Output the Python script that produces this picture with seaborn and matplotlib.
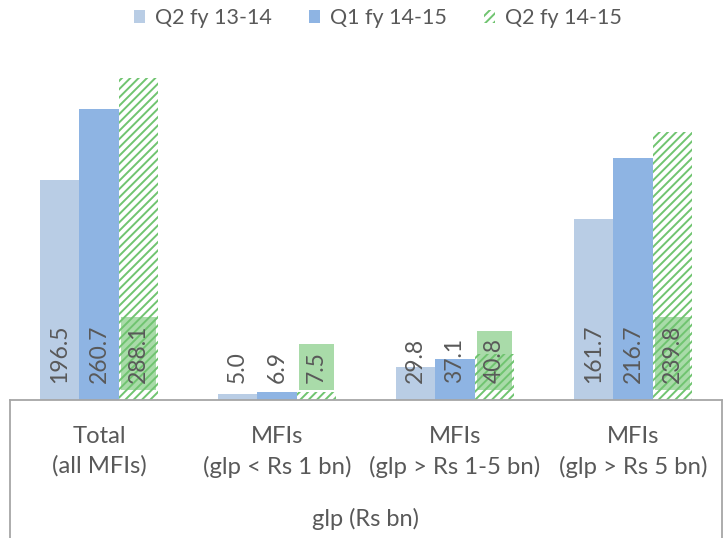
import matplotlib
matplotlib.use("Agg")
import matplotlib.pyplot as plt
import matplotlib.patches as mpatches
import seaborn as sns
import pandas as pd

# Gross loan portfolio by MFI size band (Rs bn)
categories = ["Total\n(all MFIs)", "MFIs\n(glp < Rs 1 bn)",
              "MFIs\n(glp > Rs 1-5 bn)", "MFIs\n(glp > Rs 5 bn)"]
series = ["Q2 fy 13-14", "Q1 fy 14-15", "Q2 fy 14-15"]
q2_fy1314 = [196.5, 5.0, 29.8, 161.7]
q1_fy1415 = [260.7, 6.9, 37.1, 216.7]
q2_fy1415 = [288.1, 7.5, 40.8, 239.8]
axis_title = "glp (Rs bn)"

values = [q2_fy1314, q1_fy1415, q2_fy1415]
df = pd.DataFrame({
    "category": categories * len(series),
    "series": [s for s in series for _ in categories],
    "value": [v for vals in values for v in vals],
})

sns.set_theme(style="white")
plt.rcParams["font.family"] = ["Lato", "DejaVu Sans"]
plt.rcParams["hatch.linewidth"] = 1.4

light_blue = "#B9CDE5"
mid_blue = "#8EB4E3"
green = "#70C470"
text_grey = "#595959"
line_grey = "#A6A6A6"
stripes = "////"

fig = plt.figure(figsize=(7.28, 5.38), dpi=100)
ax = fig.add_axes([10 / 728, 138 / 538, 712 / 728, (400 - 64.7) / 538])

sns.barplot(data=df, x="category", y="value", hue="series", order=categories,
            hue_order=series, palette=[light_blue, mid_blue, "white"],
            width=0.667, saturation=1, legend=False, ax=ax)

# Third series: white bars with green upward diagonal stripes
for patch in ax.containers[2]:
    patch.set_hatch(stripes)
    patch.set_edgecolor(green)
    patch.set_linewidth(0)
for cont in ax.containers[:2]:
    for patch in cont:
        patch.set_linewidth(0)

ax.set_xlim(-0.5, 3.5)
ax.set_ylim(0, 300)

# Value labels, rotated, anchored near the base of each bar
label_fs = 16.5
for si, cont in enumerate(ax.containers):
    for ci, patch in enumerate(cont):
        x = patch.get_x() + patch.get_width() / 2
        kw = {}
        if si == 2:
            kw["bbox"] = dict(boxstyle="square,pad=0.3", facecolor=green,
                              alpha=0.6, edgecolor="none")
        ax.text(x, 15.5, f"{values[si][ci]:.1f}", rotation=90, ha="center",
                va="bottom", fontsize=label_fs, color=text_grey, **kw)

for s in ["top", "right", "left"]:
    ax.spines[s].set_visible(False)
ax.spines["bottom"].set_color(line_grey)
ax.spines["bottom"].set_linewidth(1.3)
ax.set_yticks([])
ax.tick_params(axis="x", length=0, pad=19, labelsize=17.2, labelcolor=text_grey)
for lbl in ax.get_xticklabels():
    lbl.set_linespacing(1.45)
ax.set_ylabel("")
ax.set_xlabel(axis_title, fontsize=17, color=text_grey, labelpad=22)

# Outer axis boundary lines down the sides of the category area
for xa in (0, 1):
    ax.plot([xa, xa], [0, -0.45], transform=ax.transAxes, color=line_grey,
            lw=1.3, clip_on=False)

handles = [
    mpatches.Patch(facecolor=light_blue, edgecolor="none", label=series[0]),
    mpatches.Patch(facecolor=mid_blue, edgecolor="none", label=series[1]),
    mpatches.Patch(facecolor="white", edgecolor=green, hatch=stripes, lw=0,
                   label=series[2]),
]
fig.legend(handles=handles, loc="center", bbox_to_anchor=(378 / 728, 1 - 18 / 538),
           ncol=3, frameon=False, fontsize=15.5, labelcolor=text_grey,
           handlelength=0.52, handleheight=0.52, handletextpad=0.47,
           columnspacing=1.72)

fig.savefig("out.png", dpi=100)
